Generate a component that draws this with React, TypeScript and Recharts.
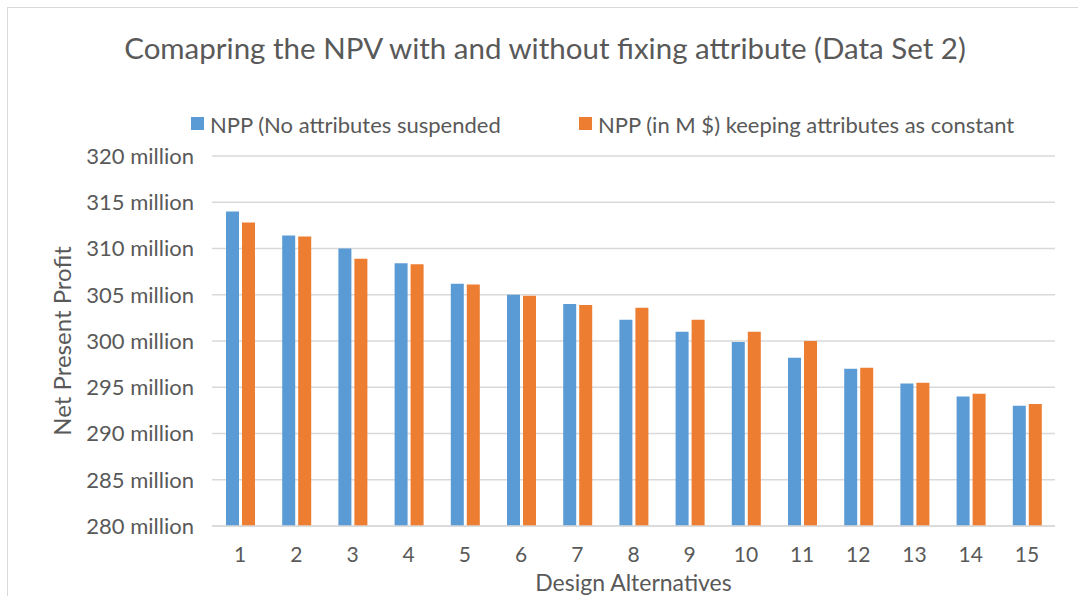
import { BarChart, Bar, XAxis, YAxis, CartesianGrid } from "recharts";

const designs = ["1", "2", "3", "4", "5", "6", "7", "8", "9", "10", "11", "12", "13", "14", "15"];
// values in millions
const noSuspended = [314.0, 311.4, 310.0, 308.4, 306.2, 305.0, 304.0, 302.3, 301.0, 299.9, 298.2, 297.0, 295.4, 294.0, 293.0];
const keptConstant = [312.8, 311.3, 308.9, 308.3, 306.1, 304.9, 303.9, 303.6, 302.3, 301.0, 300.0, 297.1, 295.5, 294.3, 293.2];
const yTicks = [280, 285, 290, 295, 300, 305, 310, 315, 320];

const seriesA = "NPP (No attributes suspended";
const seriesB = "NPP (in M $) keeping attributes as constant";

const data = designs.map((d, i) => ({ name: d, a: noSuspended[i], b: keptConstant[i] }));

const FONT = "Lato, 'Open Sans', sans-serif";
const TEXT = "#595959";

function TopLegend() {
  return (
    <div style={{ position: "absolute", left: 0, top: 111, width: 1078, height: 28, fontFamily: FONT, fontSize: 22, color: TEXT }}>
      <span style={{ position: "absolute", left: 191, top: 6, width: 13, height: 13, background: "#5B9BD5" }} />
      <span style={{ position: "absolute", left: 210, top: 0, whiteSpace: "nowrap" }}>{seriesA}</span>
      <span style={{ position: "absolute", left: 579, top: 6, width: 13, height: 13, background: "#ED7D31" }} />
      <span style={{ position: "absolute", left: 598, top: 0, whiteSpace: "nowrap" }}>{seriesB}</span>
    </div>
  );
}

export default function App() {
  return (
    <div style={{ position: "fixed", left: 0, top: 0, width: 1078, height: 596, background: "#fff", overflow: "hidden" }}>
      <div style={{ position: "absolute", left: 7, top: 7, width: 1090, height: 600, border: "1px solid #d9d9d9" }} />
      <div
        style={{
          position: "absolute",
          left: 0,
          top: 30,
          width: 1090,
          textAlign: "center",
          fontFamily: FONT,
          fontSize: 29.5,
          color: TEXT,
          whiteSpace: "nowrap",
        }}
      >
        Comapring the NPV with and without fixing attribute (Data Set 2)
      </div>
      <TopLegend />
      <BarChart
        width={1078}
        height={596}
        data={data}
        margin={{ top: 156, right: 23, left: 40, bottom: 0 }}
        barSize={13}
        barGap={3}
        style={{ position: "absolute", left: 0, top: 0 }}
      >
        <CartesianGrid stroke="#d9d9d9" strokeWidth={1.5} vertical={false} />
        <XAxis
          dataKey="name"
          height={70}
          tickLine={false}
          axisLine={{ stroke: "#d9d9d9", strokeWidth: 1.5 }}
          tickMargin={15}
          tick={{ fill: TEXT, fontFamily: FONT, fontSize: 21 }}
          label={{ value: "Design Alternatives", position: "insideBottom", offset: 5, fill: TEXT, fontFamily: FONT, fontSize: 23 }}
        />
        <YAxis
          width={172}
          domain={[280, 320]}
          ticks={yTicks}
          interval={0}
          tickLine={false}
          axisLine={false}
          tickMargin={12}
          tickFormatter={(v: number) => `${v} million`}
          tick={{ fill: TEXT, fontFamily: FONT, fontSize: 22 }}
          label={{ value: "Net Present Profit", angle: -90, position: "insideLeft", offset: 22, fill: TEXT, fontFamily: FONT, fontSize: 24, style: { textAnchor: "middle" } }}
        />
        <Bar dataKey="a" name={seriesA} fill="#5B9BD5" isAnimationActive={false} />
        <Bar dataKey="b" name={seriesB} fill="#ED7D31" isAnimationActive={false} />
      </BarChart>
    </div>
  );
}
